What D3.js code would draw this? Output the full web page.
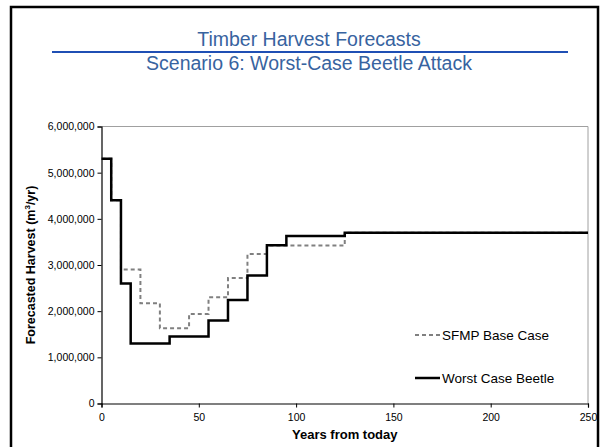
<!DOCTYPE html>
<html>
<head>
<meta charset="utf-8">
<script src="https://cdn.jsdelivr.net/npm/d3@7"></script>
<style>
  body { margin: 0; background: #fff; }
  svg { display: block; }
</style>
</head>
<body>
<div class="chart"></div>
<script>
/* data */
var baseYears  = [0, 5, 10, 20, 30, 45, 55, 65, 75, 85, 125, 250];
var baseValues = [5300000, 4400000, 2900000, 2170000, 1630000, 1940000, 2300000, 2720000, 3240000, 3420000, 3700000, 3700000];

var beetleYears  = [0, 5, 10, 15, 35, 55, 65, 75, 85, 95, 125, 250];
var beetleValues = [5300000, 4400000, 2600000, 1300000, 1450000, 1800000, 2240000, 2770000, 3430000, 3630000, 3700000, 3700000];

var xTicks = [0, 50, 100, 150, 200, 250];
var yTicks = [0, 1000000, 2000000, 3000000, 4000000, 5000000, 6000000];

var seriesNames = ["SFMP Base Case", "Worst Case Beetle"];

var svg = d3.select(".chart").append("svg")
    .attr("width", 602)
    .attr("height", 447);

/* slide frame */
svg.append("rect")
    .attr("x", 11).attr("y", 7)
    .attr("width", 587).attr("height", 460)
    .attr("fill", "none")
    .attr("stroke", "#000")
    .attr("stroke-width", 2.5);

/* titles */
svg.append("text")
    .attr("x", 309).attr("y", 46)
    .attr("text-anchor", "middle")
    .attr("font-family", "Liberation Sans, Arial, sans-serif")
    .attr("font-size", 19.5)
    .attr("fill", "#3763a0")
    .text("Timber Harvest Forecasts");

svg.append("line")
    .attr("x1", 52).attr("x2", 568)
    .attr("y1", 52).attr("y2", 52)
    .attr("stroke", "#1f4fb4")
    .attr("stroke-width", 2);

svg.append("text")
    .attr("x", 309).attr("y", 70)
    .attr("text-anchor", "middle")
    .attr("font-family", "Liberation Sans, Arial, sans-serif")
    .attr("font-size", 19.5)
    .attr("fill", "#3763a0")
    .text("Scenario 6: Worst-Case Beetle Attack");

/* plot area */
var plotL = 101.5, plotR = 588, plotT = 126.5, plotB = 403.5;

var x = d3.scaleLinear().domain([0, 250]).range([plotL, plotR]);
var y = d3.scaleLinear().domain([0, 6000000]).range([plotB, plotT]);

var g = svg.append("g");

/* top and right border (light gray) */
g.append("path")
    .attr("d", "M" + plotL + "," + plotT + "H" + plotR + "V" + plotB)
    .attr("fill", "none")
    .attr("stroke", "#a0a0a0")
    .attr("stroke-width", 1);

var xAxis = d3.axisBottom(x).tickValues(xTicks).tickSize(4).tickPadding(6);
var yAxis = d3.axisLeft(y).tickValues(yTicks).tickSize(4).tickPadding(3)
    .tickFormat(d3.format(","));

function styleAxis(s) {
  s.select(".domain").attr("stroke", "#000").attr("stroke-width", 1.2);
  s.selectAll(".tick line").attr("stroke", "#000");
  s.selectAll(".tick text")
    .attr("font-family", "Liberation Sans, Arial, sans-serif")
    .attr("font-size", 10.5).attr("fill", "#000");
}

g.append("g")
    .attr("transform", "translate(0," + plotB + ")")
    .call(xAxis)
    .call(styleAxis);

g.append("g")
    .attr("transform", "translate(" + plotL + ",0)")
    .call(yAxis)
    .call(styleAxis);

/* axis titles */
svg.append("text")
    .attr("x", (plotL + plotR) / 2).attr("y", 439)
    .attr("text-anchor", "middle")
    .attr("font-family", "Liberation Sans, Arial, sans-serif")
    .attr("font-size", 13).attr("font-weight", "bold")
    .text("Years from today");

var yTitle = svg.append("text")
    .attr("transform", "translate(35," + ((plotT + plotB) / 2) + ") rotate(-90)")
    .attr("text-anchor", "middle")
    .attr("font-family", "Liberation Sans, Arial, sans-serif")
    .attr("font-size", 12.5).attr("font-weight", "bold");
yTitle.append("tspan").text("Forecasted Harvest (m");
yTitle.append("tspan").attr("dy", -5).attr("font-size", 8).text("3");
yTitle.append("tspan").attr("dy", 5).text("/yr)");

/* step lines */
var line = d3.line()
    .x(function(d) { return x(d[0]); })
    .y(function(d) { return y(d[1]); })
    .curve(d3.curveStepAfter);

g.append("path")
    .datum(d3.zip(baseYears, baseValues))
    .attr("d", line)
    .attr("fill", "none")
    .attr("stroke", "#808080")
    .attr("stroke-width", 2)
    .attr("stroke-dasharray", "4,3");

g.append("path")
    .datum(d3.zip(beetleYears, beetleValues))
    .attr("d", line)
    .attr("fill", "none")
    .attr("stroke", "#000")
    .attr("stroke-width", 2.5);

/* legend */
var legend = svg.append("g");
var legendRows = [
  { name: seriesNames[0], y: 335, stroke: "#808080", dash: "4,3", w: 2 },
  { name: seriesNames[1], y: 378, stroke: "#000", dash: null, w: 2.5 }
];
legendRows.forEach(function(r) {
  legend.append("line")
    .attr("x1", 415).attr("x2", 440)
    .attr("y1", r.y).attr("y2", r.y)
    .attr("stroke", r.stroke)
    .attr("stroke-width", r.w)
    .attr("stroke-dasharray", r.dash);
  legend.append("text")
    .attr("x", 442).attr("y", r.y + 5)
    .attr("font-family", "Liberation Sans, Arial, sans-serif")
    .attr("font-size", 13.5)
    .text(r.name);
});
</script>
</body>
</html>
